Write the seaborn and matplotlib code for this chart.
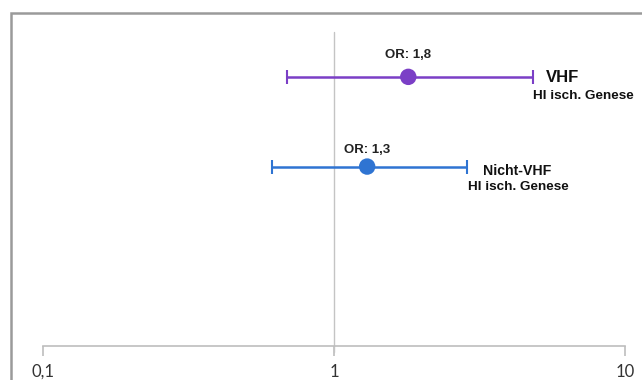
import numpy as np
import matplotlib.pyplot as plt
import seaborn as sns
import pandas as pd
from matplotlib.patches import Rectangle

groups = ['VHF', 'Nicht-VHF']
sublabels = ['HI isch. Genese', 'HI isch. Genese']
odds = [1.8, 1.3]
ci_low = [0.69, 0.61]
ci_high = [4.83, 2.86]
ypos = [3, 2]
colors = ['#7b3fc6', '#2f74d2']
ticks = [0.1, 1, 10]
tick_labels = ['0,1', '1', '10']

data = pd.DataFrame({'Gruppe': groups, 'OR': odds, 'low': ci_low, 'high': ci_high, 'y': ypos})

sns.set_style('white')
plt.rcParams['font.family'] = ['Liberation Sans', 'DejaVu Sans']

fig = plt.figure(figsize=(6.42, 3.80), dpi=100)
ax = fig.add_axes([43 / 642, 34 / 380, 582 / 642, 314 / 380])

# frame around the chart (cut at right and bottom like the screenshot)
fig.patches.append(Rectangle((11 / 642, -0.2), 1.2, 0.2 + 367 / 380, transform=fig.transFigure,
                             fill=False, edgecolor='#9a9a9a', linewidth=1.8))

ax.axvline(1, ymin=-0.02, ymax=1, color='#c4c4c4', lw=1, zorder=1, clip_on=False)

for i, row in data.iterrows():
    ax.errorbar(row['OR'], row['y'],
                xerr=[[row['OR'] - row['low']], [row['high'] - row['OR']]],
                fmt='none', ecolor=colors[i], elinewidth=1.8, capsize=5, capthick=1.5, zorder=2)

sns.scatterplot(data=data, x='OR', y='y', hue='Gruppe', palette=colors, s=140,
                edgecolor='none', legend=False, ax=ax, zorder=3)

or_y = [3.245, 2.185]
for i, row in data.iterrows():
    ax.text(row['OR'], or_y[i], 'OR: ' + str(row['OR']).replace('.', ','),
            ha='center', va='center', fontsize=9.5, fontweight='bold', color='#222222')

ax.text(5.35, 2.99, groups[0], ha='left', va='center', fontsize=12, fontweight='bold', color='#111111')
ax.text(4.83, 2.79, sublabels[0], ha='left', va='center', fontsize=9.7, fontweight='bold', color='#111111')
ax.text(3.25, 1.95, groups[1], ha='left', va='center', fontsize=10.2, fontweight='bold', color='#111111')
ax.text(2.89, 1.77, sublabels[1], ha='left', va='center', fontsize=9.7, fontweight='bold', color='#111111')

ax.set_xscale('log')
ax.set_xlim(0.1, 10)
ax.set_ylim(0, 3.5)
ax.set_xticks(ticks)
ax.set_xticklabels(tick_labels, fontfamily='Lato')
ax.minorticks_off()
ax.set_yticks([])
ax.set_xlabel('')
ax.set_ylabel('')
for s in ['top', 'right', 'left']:
    ax.spines[s].set_visible(False)
ax.spines['bottom'].set_color('#bdbdbd')
ax.spines['bottom'].set_linewidth(1.2)
ax.spines['bottom'].set_bounds(0.1, 10)
ax.tick_params(axis='x', bottom=True, direction='out', length=7, width=1.2, color='#bdbdbd',
               labelsize=12, labelcolor='#333333', pad=6)
ax.patch.set_visible(False)

fig.savefig('out.png', dpi=100)
